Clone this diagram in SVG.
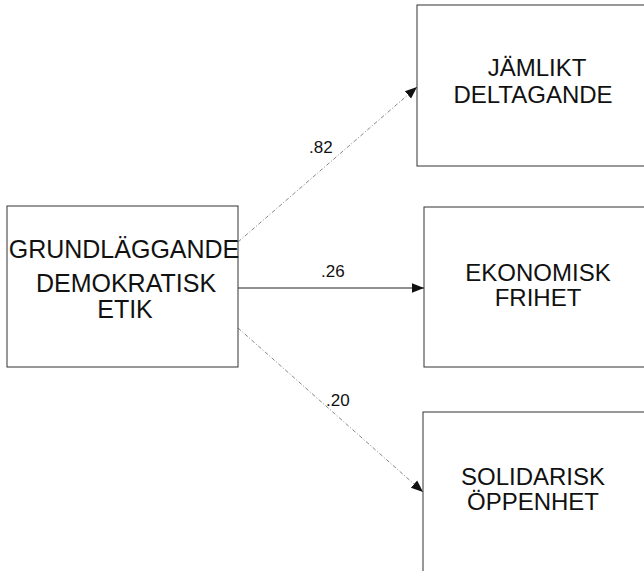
<svg xmlns="http://www.w3.org/2000/svg" width="644" height="571" viewBox="0 0 644 571">
<style>
.box{fill:#fff;stroke:#333;stroke-width:1}
.t{font-family:"Liberation Sans",Arial,sans-serif;font-size:24px;fill:#111;text-anchor:middle}
.lbl{font-family:"Liberation Sans",Arial,sans-serif;font-size:17px;fill:#111}
.dash{stroke:#888;stroke-width:1;stroke-dasharray:4 2 1 2;fill:none}
.solid{stroke:#222;stroke-width:1;fill:none}
</style>
<defs>
<marker id="ah" viewBox="0 0 10 10" refX="10" refY="5" markerWidth="12" markerHeight="12" markerUnits="userSpaceOnUse" orient="auto">
<path d="M0,1 L10,5 L0,9 Z" fill="#111"/>
</marker>
</defs>
<rect width="644" height="571" fill="#fff"/>
<g id="connectors">
<line class="dash" x1="238" y1="242" x2="417" y2="87" marker-end="url(#ah)"/>
<line class="solid" x1="238" y1="288" x2="424" y2="288" marker-end="url(#ah)"/>
<line class="dash" x1="238" y1="328" x2="423" y2="492" marker-end="url(#ah)"/>
<text class="lbl" x="309" y="153">.82</text>
<text class="lbl" x="321" y="277">.26</text>
<text class="lbl" x="326" y="406">.20</text>
</g>
<g id="grundlaggande">
<rect class="box" x="7" y="206" width="231" height="161"/>
<text class="t" x="124" y="258" style="font-size:25px">GRUNDLÄGGANDE</text>
<text class="t" x="126" y="292" style="font-size:25px">DEMOKRATISK</text>
<text class="t" x="125" y="318" style="font-size:25px">ETIK</text>
</g>
<g id="jamlikt">
<rect class="box" x="417" y="5" width="240" height="161"/>
<text class="t" x="537" y="76">JÄMLIKT</text>
<text class="t" x="533" y="103">DELTAGANDE</text>
</g>
<g id="ekonomisk">
<rect class="box" x="424" y="207" width="240" height="160"/>
<text class="t" x="538" y="281">EKONOMISK</text>
<text class="t" x="538" y="306">FRIHET</text>
</g>
<g id="solidarisk">
<rect class="box" x="423" y="412" width="240" height="180"/>
<text class="t" x="533" y="485">SOLIDARISK</text>
<text class="t" x="533" y="510">ÖPPENHET</text>
</g>
</svg>
